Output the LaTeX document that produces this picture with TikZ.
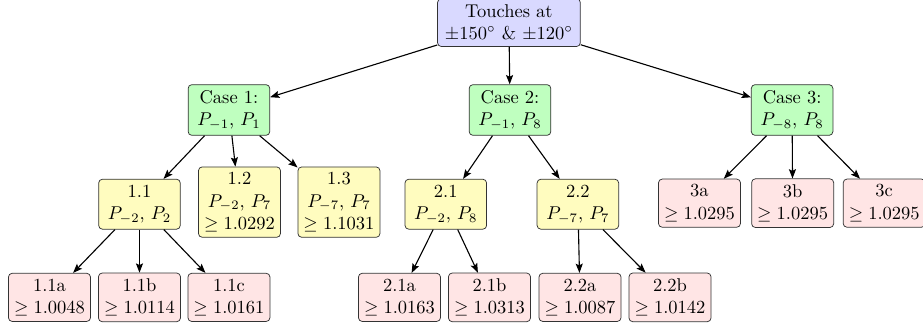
\documentclass[tikz,border=0pt]{standalone}
\usepackage{amssymb}
\usepackage{amsmath}
\usepackage{tikz}
\usetikzlibrary{arrows, arrows.meta, positioning}
\tikzset{>={Stealth[length=5pt, width=3.8pt, inset=0.9pt]}}
\tikzset{
  box/.style={draw=black!80, rounded corners=2pt, align=center,
    inner xsep=3pt, inner ysep=3pt, minimum width=1.55cm, thin},
  rootbox/.style={box, fill=blue!15, inner xsep=4pt},
  casebox/.style={box, fill=green!25},
  subbox/.style={box, fill=yellow!25},
  leafbox/.style={box, fill=red!10}
}

\begin{document}
\begin{tikzpicture}[thin]
  \useasboundingbox (0,0) rectangle (17.537,-6.289);
  % root
  \node[rootbox] (root) at (9.67,-0.43) {Touches at\\$\pm150^\circ$ \& $\pm120^\circ$};
  % cases
  \node[casebox] (c1) at (4.35,-2.09) {Case 1:\\$P_{-1}$, $P_1$};
  \node[casebox] (c2) at (9.69,-2.09) {Case 2:\\$P_{-1}$, $P_8$};
  \node[casebox] (c3) at (15.05,-2.09) {Case 3:\\$P_{-8}$, $P_8$};
  % sub cases
  \node[subbox] (c11) at (2.65,-3.88) {1.1\\$P_{-2}$, $P_2$};
  \node[subbox] (c12) at (4.55,-3.84) {1.2\\$P_{-2}$, $P_7$\\$\geq 1.0292$};
  \node[subbox] (c13) at (6.44,-3.84) {1.3\\$P_{-7}$, $P_7$\\$\geq 1.1031$};
  \node[subbox] (c21) at (8.47,-3.88) {2.1\\$P_{-2}$, $P_8$};
  \node[subbox] (c22) at (10.98,-3.88) {2.2\\$P_{-7}$, $P_7$};
  \node[leafbox] (c3a) at (13.29,-3.86) {3a\\$\geq 1.0295$};
  \node[leafbox] (c3b) at (15.06,-3.86) {3b\\$\geq 1.0295$};
  \node[leafbox] (c3c) at (16.80,-3.86) {3c\\$\geq 1.0295$};
  % leaves
  \node[leafbox] (c11a) at (0.94,-5.65) {1.1a\\$\geq 1.0048$};
  \node[leafbox] (c11b) at (2.65,-5.65) {1.1b\\$\geq 1.0114$};
  \node[leafbox] (c11c) at (4.35,-5.65) {1.1c\\$\geq 1.0161$};
  \node[leafbox] (c21a) at (7.59,-5.65) {2.1a\\$\geq 1.0163$};
  \node[leafbox] (c21b) at (9.30,-5.65) {2.1b\\$\geq 1.0313$};
  \node[leafbox] (c22a) at (11.02,-5.65) {2.2a\\$\geq 1.0087$};
  \node[leafbox] (c22b) at (12.73,-5.65) {2.2b\\$\geq 1.0142$};
  % arrows
  \foreach \a/\b in {root/c1, root/c2, root/c3,
                     c1/c11, c1/c12, c1/c13, c2/c21, c2/c22,
                     c3/c3a, c3/c3b, c3/c3c,
                     c11/c11a, c11/c11b, c11/c11c,
                     c21/c21a, c21/c21b, c22/c22a, c22/c22b}
    \draw[->, semithick] (\a) -- (\b);
\end{tikzpicture}
\end{document}
